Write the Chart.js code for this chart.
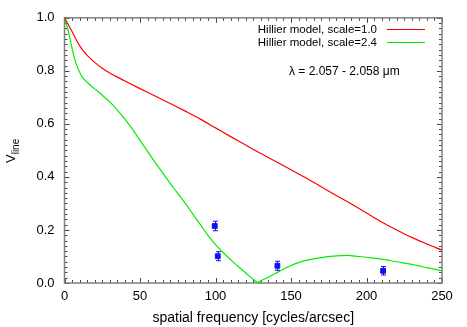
<!DOCTYPE html>
<html>
<head>
<meta charset="utf-8">
<script src="https://cdn.jsdelivr.net/npm/chart.js@4.4.1/dist/chart.umd.min.js"></script>
<style>
html,body{margin:0;padding:0;background:#fff;}
#wrap{width:467px;height:327px;}
</style>
</head>
<body>
<div id="wrap"><canvas id="c" width="467" height="327"></canvas></div>
<script>
// ---- data ----
const redFreq = [0,2.5,5,7.5,10,12.5,15,20,25,30,40,50,60,70,80,90,100,110,120,130,140,150,160,170,180,190,200,210,220,230,240,250];
const redV    = [1.0,0.975,0.948,0.92,0.895,0.875,0.858,0.832,0.81,0.792,0.762,0.733,0.705,0.677,0.648,0.618,0.585,0.552,0.52,0.488,0.458,0.427,0.396,0.363,0.33,0.298,0.264,0.23,0.2,0.172,0.147,0.124];
const greenFreq = [0,2.5,5,7.5,10,12.5,15,20,25,30,35,40,45,50,55,60,65,70,75,80,85,90,95,100,105,110,115,120,125,128,130,135,140,145,150,155,160,170,180,187,195,200,210,216,220,230,240,250];
const greenV    = [1.0,0.951,0.885,0.83,0.795,0.772,0.757,0.732,0.708,0.683,0.652,0.618,0.58,0.538,0.496,0.455,0.415,0.376,0.338,0.30,0.26,0.22,0.18,0.145,0.115,0.088,0.062,0.038,0.014,0.002,0.008,0.022,0.037,0.052,0.066,0.077,0.085,0.096,0.102,0.104,0.1,0.097,0.09,0.084,0.08,0.07,0.058,0.046];
const obsFreq = [99.5,101.5,141,211];
const obsV    = [0.215,0.101,0.065,0.046];
const obsErr  = [0.018,0.017,0.017,0.016];
const xTicks = [0,50,100,150,200,250];
const yTicks = [0,0.2,0.4,0.6,0.8,1.0];
const seriesLabels = ['Hillier model, scale=1.0','Hillier model, scale=2.4'];
const lambdaText = 'λ = 2.057 - 2.058 μm';
const xTitle = 'spatial frequency [cycles/arcsec]';
const yTitleMain = 'V';
const yTitleSub = 'line';

const FONT = '"Liberation Sans", Arial, Helvetica, sans-serif';

const framePlugin = {
  id: 'frame',
  beforeDatasetsDraw(chart) {
    const {ctx, chartArea: a, scales: {x, y}} = chart;
    ctx.save();
    ctx.strokeStyle = '#444';
    ctx.lineWidth = 1;
    ctx.beginPath();
    for (let v = 0; v <= 250 + 1e-9; v += 5) {
      const px = Math.round(x.getPixelForValue(v)) + 0.5;
      const major = Math.abs(v % 50) < 1e-6;
      const len = major ? 5 : 3;
      ctx.moveTo(px, a.bottom); ctx.lineTo(px, a.bottom - len);
      ctx.moveTo(px, a.top); ctx.lineTo(px, a.top + len);
    }
    for (let i = 0; i <= 50; i++) {
      const v = i * 0.02;
      const py = Math.round(y.getPixelForValue(v)) + 0.5;
      const len = (i % 10 === 0) ? 5 : 3;
      ctx.moveTo(a.left, py); ctx.lineTo(a.left + len, py);
      ctx.moveTo(a.right, py); ctx.lineTo(a.right - len, py);
    }
    ctx.stroke();
    ctx.strokeStyle = '#808080';
    ctx.lineWidth = 1.5;
    ctx.strokeRect(a.left, a.top, a.right - a.left, a.bottom - a.top);
    ctx.restore();
  },
  afterDatasetsDraw(chart) {
    const {ctx, scales: {x, y}} = chart;
    ctx.save();
    ctx.strokeStyle = '#1010ee';
    ctx.lineWidth = 1;
    ctx.beginPath();
    for (let i = 0; i < obsFreq.length; i++) {
      const px = Math.round(x.getPixelForValue(obsFreq[i])) + 0.5;
      const y1 = y.getPixelForValue(obsV[i] + obsErr[i]);
      const y2 = y.getPixelForValue(obsV[i] - obsErr[i]);
      ctx.moveTo(px, y1); ctx.lineTo(px, y2);
      ctx.moveTo(px - 2.5, y1); ctx.lineTo(px + 2.5, y1);
      ctx.moveTo(px - 2.5, y2); ctx.lineTo(px + 2.5, y2);
    }
    ctx.stroke();
    ctx.restore();
  },
  afterDraw(chart) {
    const {ctx} = chart;
    ctx.save();
    ctx.font = '11.5px ' + FONT;
    ctx.fillStyle = '#000';
    ctx.textAlign = 'right';
    ctx.textBaseline = 'middle';
    const rows = [29.5, 42.5];
    for (let i = 0; i < 2; i++) {
      const ds = chart.data.datasets[i];
      ctx.fillText(ds.label, 377, rows[i]);
      ctx.strokeStyle = ds.borderColor;
      ctx.lineWidth = 1.2;
      ctx.beginPath();
      ctx.moveTo(387, rows[i]); ctx.lineTo(425, rows[i]);
      ctx.stroke();
    }
    ctx.font = '12px ' + FONT;
    ctx.textAlign = 'left';
    ctx.fillText(lambdaText, 289, 72);
    ctx.translate(15, 163);
    ctx.rotate(-Math.PI / 2);
    ctx.textBaseline = 'alphabetic';
    ctx.font = '13px ' + FONT;
    ctx.fillText(yTitleMain, 0, 0);
    const w = ctx.measureText(yTitleMain).width;
    ctx.font = '10px ' + FONT;
    ctx.fillText(yTitleSub, w, 4);
    ctx.restore();
  }
};

new Chart(document.getElementById('c'), {
  type: 'scatter',
  data: {
    datasets: [
      { label: seriesLabels[0], data: redFreq.map((f, i) => ({x: f, y: redV[i]})),
        showLine: true, borderColor: '#ff0000', borderWidth: 1.2, pointRadius: 0, cubicInterpolationMode: 'monotone', fill: false },
      { label: seriesLabels[1], data: greenFreq.map((f, i) => ({x: f, y: greenV[i]})),
        showLine: true, borderColor: '#00ee00', borderWidth: 1.2, pointRadius: 0, cubicInterpolationMode: 'monotone', fill: false },
      { label: 'data', data: obsFreq.map((f, i) => ({x: f, y: obsV[i]})),
        showLine: false, pointStyle: 'rect', pointRadius: 3.4, borderWidth: 1,
        backgroundColor: '#1010ee', borderColor: '#1010ee' }
    ]
  },
  options: {
    responsive: false,
    animation: false,
    events: [],
    layout: { padding: { left: 0, right: 25, top: 17, bottom: 0 } },
    plugins: { legend: { display: false }, tooltip: { enabled: false } },
    scales: {
      x: {
        type: 'linear', min: 0, max: 250,
        afterFit(s) { s.height = 44; },
        afterBuildTicks(s) { s.ticks = xTicks.map(v => ({value: v})); },
        grid: { display: false, drawTicks: false },
        border: { display: false },
        ticks: { padding: 6, color: '#000', font: { family: FONT, size: 13 }, maxRotation: 0 },
        title: { display: true, text: xTitle, color: '#000', font: { family: FONT, size: 14 }, padding: { top: 0, bottom: 0 } }
      },
      y: {
        type: 'linear', min: 0, max: 1.0,
        afterFit(s) { s.width = 64.5; },
        afterBuildTicks(s) { s.ticks = yTicks.map(v => ({value: v})); },
        grid: { display: false, drawTicks: false },
        border: { display: false },
        ticks: { padding: 10, color: '#000', font: { family: FONT, size: 13 }, callback: v => v.toFixed(1) }
      }
    }
  },
  plugins: [framePlugin]
});
</script>
</body>
</html>
